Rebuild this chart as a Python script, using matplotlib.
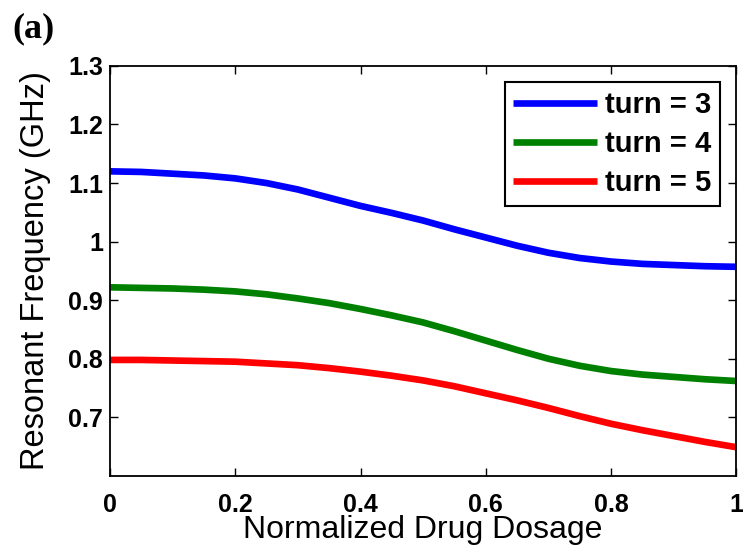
import numpy as np
import matplotlib; matplotlib.use("Agg")
import matplotlib.pyplot as plt

plt.rcParams["font.family"] = ["Liberation Sans", "DejaVu Sans"]

# normalized drug dosage (x) and resonant frequency (GHz) per number of turns
dosage = [0.0, 0.05, 0.1, 0.15, 0.2, 0.25, 0.3, 0.35, 0.4, 0.45, 0.5,
          0.55, 0.6, 0.65, 0.7, 0.75, 0.8, 0.85, 0.9, 0.95, 1.0]
f_turn3 = [1.120, 1.119, 1.116, 1.113, 1.108, 1.100, 1.089, 1.075, 1.061, 1.049, 1.036,
           1.021, 1.007, 0.993, 0.981, 0.972, 0.966, 0.962, 0.960, 0.958, 0.957]
f_turn4 = [0.922, 0.921, 0.920, 0.918, 0.915, 0.910, 0.903, 0.895, 0.885, 0.874, 0.862,
           0.847, 0.831, 0.815, 0.800, 0.788, 0.779, 0.773, 0.769, 0.765, 0.762]
f_turn5 = [0.798, 0.798, 0.797, 0.796, 0.795, 0.792, 0.789, 0.784, 0.778, 0.771, 0.763,
           0.753, 0.741, 0.729, 0.716, 0.702, 0.689, 0.678, 0.668, 0.658, 0.649]
labels = ["turn = 3", "turn = 4", "turn = 5"]
colors = ["#0000ff", "#008000", "#ff0000"]

xticks = [0, 0.2, 0.4, 0.6, 0.8, 1]
xticklabels = ["0", "0.2", "0.4", "0.6", "0.8", "1"]
yticks = [0.7, 0.8, 0.9, 1.0, 1.1, 1.2, 1.3]
yticklabels = ["0.7", "0.8", "0.9", "1", "1.1", "1.2", "1.3"]

fig = plt.figure(figsize=(7.43, 5.54), dpi=100)
ax = fig.add_axes([0.148, 0.141, 0.843, 0.740])

for ys, lab, col in zip([f_turn3, f_turn4, f_turn5], labels, colors):
    ax.plot(dosage, ys, color=col, lw=4.8, label=lab, solid_capstyle="butt")

ax.set_xlim(0, 1)
ax.set_ylim(0.6, 1.3)
ax.set_xticks(xticks)
ax.set_xticklabels(xticklabels, fontsize=18, fontweight="bold")
ax.set_yticks(yticks)
ax.set_yticklabels(yticklabels, fontsize=18, fontweight="bold")
ax.tick_params(direction="in", length=6, width=1, top=True, right=True)
ax.tick_params(axis="x", pad=12)
ax.tick_params(axis="y", pad=5)
for s in ax.spines.values():
    s.set_linewidth(1.3)

ax.set_xlabel("Normalized Drug Dosage", fontsize=23, labelpad=-1)
ax.set_ylabel("Resonant Frequency (GHz)", fontsize=23.5, labelpad=12)

leg = ax.legend(loc="upper right", prop={"weight": "bold", "size": 21},
                frameon=True, fancybox=False, handlelength=2.85, handletextpad=0.3,
                borderpad=0.3, labelspacing=0.38, borderaxespad=0.55)
leg.get_frame().set_edgecolor("black")
leg.get_frame().set_linewidth(1.5)
leg.get_frame().set_alpha(1)

fig.text(0.016, 0.978, "(a)", fontsize=26, fontweight="bold", va="top",
         family=["Liberation Serif", "DejaVu Serif"])

fig.savefig("out.png", dpi=100)
